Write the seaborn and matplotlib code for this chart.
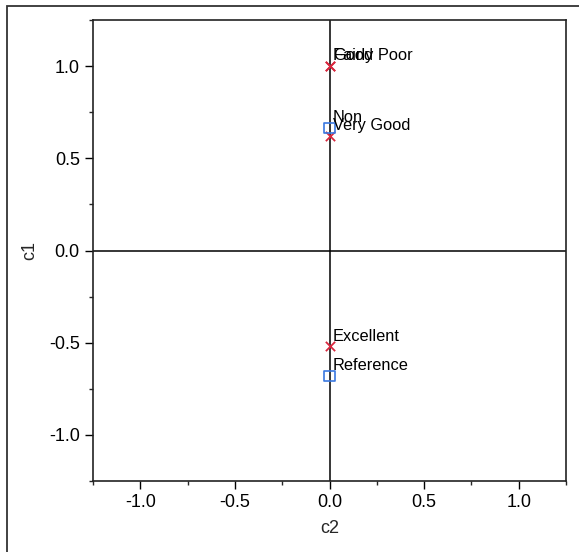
import matplotlib
matplotlib.use("Agg")
import matplotlib.pyplot as plt
import seaborn as sns
import pandas as pd
from matplotlib.patches import Rectangle

sns.set_style("white")
plt.rcParams['font.family'] = ['Liberation Sans', 'DejaVu Sans']
plt.rcParams['axes.unicode_minus'] = False

labels = ["Good", "Fairly Poor", "Very Good", "Excellent", "Non", "Reference"]
c2 = [0.0, 0.0, 0.0, 0.0, 0.0, 0.0]
c1 = [1.0, 1.0, 0.62, -0.52, 0.665, -0.68]
kind = ["row", "row", "row", "row", "col", "col"]

df = pd.DataFrame({"label": labels, "c2": c2, "c1": c1, "kind": kind})

fig = plt.figure(figsize=(5.79, 5.52), dpi=100)
ax = fig.add_axes([93/579, 1-481/552, (566-93)/579, (481-20)/552])

ax.axhline(0, color="black", lw=1.1, zorder=1)
ax.axvline(0, color="black", lw=1.1, zorder=1)

rows = df[df.kind == "row"]
cols = df[df.kind == "col"]
sns.scatterplot(data=rows, x="c2", y="c1", marker="x", color="#d8283f", s=45,
                linewidth=1.3, ax=ax, zorder=3)
sns.scatterplot(data=cols, x="c2", y="c1", marker="s", facecolor="none",
                edgecolor="#3a78e0", s=55, linewidth=1.2, ax=ax, zorder=3)

for _, r in df.iterrows():
    ax.annotate(r["label"], (r["c2"], r["c1"]), xytext=(2.5, 2),
                textcoords="offset points", fontsize=11.8, color="black",
                ha="left", va="bottom")

ax.set_xlim(-1.25, 1.25)
ax.set_ylim(-1.25, 1.25)
ax.set_xticks([-1.0, -0.5, 0.0, 0.5, 1.0])
ax.set_yticks([-1.0, -0.5, 0.0, 0.5, 1.0])
ax.set_xticks([-1.25, -0.75, -0.25, 0.25, 0.75, 1.25], minor=True)
ax.set_yticks([-1.25, -0.75, -0.25, 0.25, 0.75, 1.25], minor=True)
ax.tick_params(axis="both", which="major", direction="out", length=6, width=1,
               labelsize=13, colors="black", left=True, bottom=True)
ax.tick_params(axis="both", which="minor", direction="out", length=3, width=1,
               left=True, bottom=True)
ax.set_xlabel("c2", fontsize=13, labelpad=6)
ax.set_ylabel("c1", fontsize=13, labelpad=8)
for s in ax.spines.values():
    s.set_color("#222222")
    s.set_linewidth(1.2)

fig.patches.append(Rectangle((7/579, -0.05), 1.1, 1-6/552+0.05, transform=fig.transFigure,
                             fill=False, edgecolor="#333333", lw=1.3))

fig.savefig("out.png", dpi=100)
